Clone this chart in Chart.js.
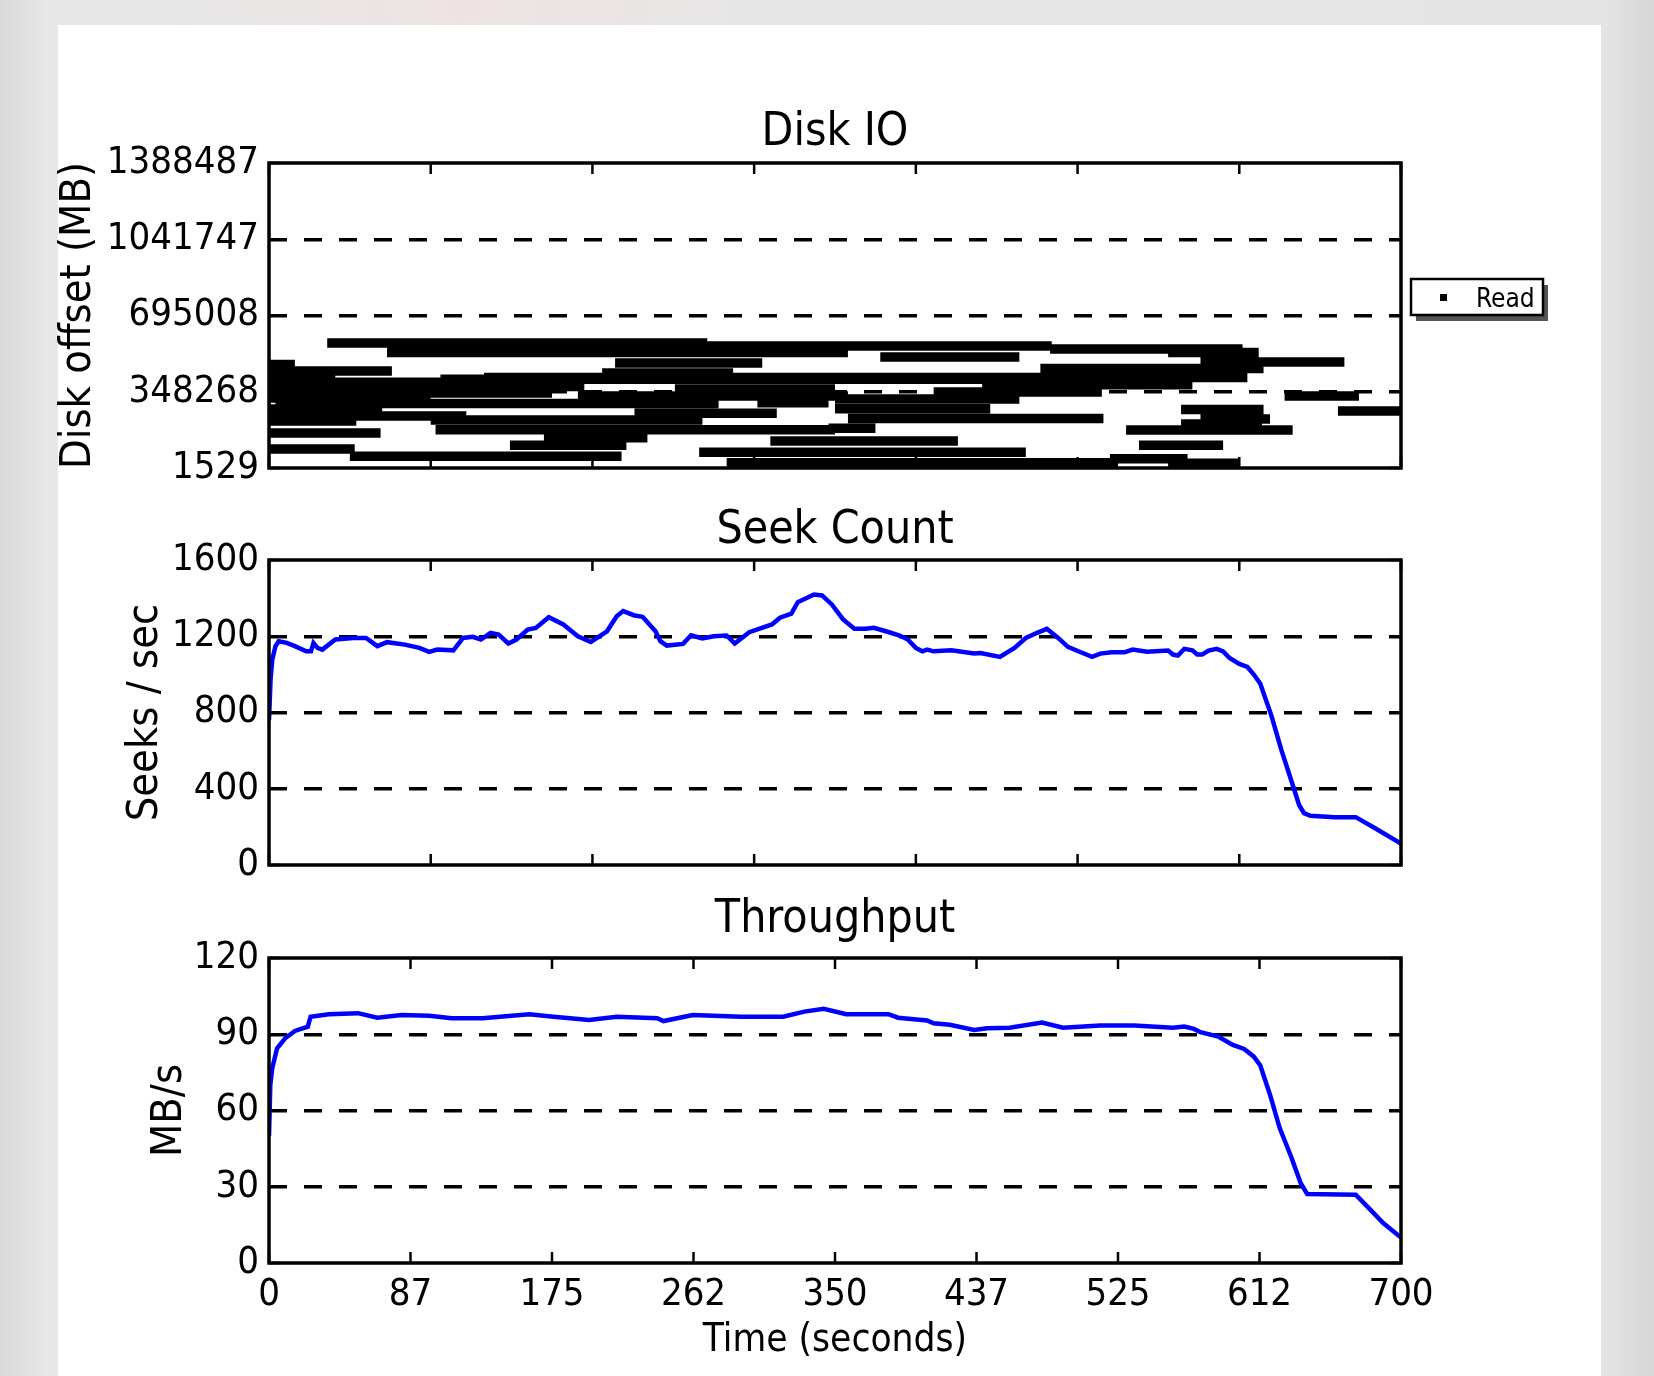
<!DOCTYPE html>
<html>
<head>
<meta charset="utf-8">
<title>Disk IO / Seek Count / Throughput</title>
<script src="https://cdn.jsdelivr.net/npm/chart.js@4.4.1/dist/chart.umd.min.js"></script>
<style>
  html, body { margin: 0; padding: 0; }
  body {
    width: 1654px; height: 1376px; overflow: hidden; position: relative;
    background:
      radial-gradient(ellipse at 28% 0%, #eee3e3 0%, rgba(238,227,227,0) 18%),
      linear-gradient(90deg, #d9d9d9 0%, #e8e8e8 3%, #e4e4e4 97%, #d6d6d6 100%);
  }
  #panel { position: absolute; left: 58px; top: 25px; width: 1543px; height: 1351px; background: #fff; }
  canvas { position: absolute; left: 0; top: 0; }
</style>
</head>
<body>
<div id="panel"></div>
<canvas id="diskChart" width="1654" height="1376"></canvas>
<canvas id="seekChart" width="1654" height="1376"></canvas>
<canvas id="tputChart" width="1654" height="1376"></canvas>
<script>
const FONT = '"DejaVu Sans Condensed", "DejaVu Sans", sans-serif';

// time ticks (seconds)
const topTimeTicks = [0, 100, 200, 300, 400, 500, 600, 700];
const bottomTimeTicks = [0, 87.5, 175, 262.5, 350, 437.5, 525, 612.5, 700];
const bottomTimeLabels = ['0', '87', '175', '262', '350', '437', '525', '612', '700'];

// Disk IO: each read run is a horizontal bar (start s, end s, offset MB)
const diskTicks = [1529, 348268.5, 695008, 1041747.5, 1388487];
const diskTickLabels = ['1529', '348268', '695008', '1041747', '1388487'];
const readStart = [36, 266, 483, 73, 0, 0, 0, 133, 106, 206, 0, 0, 191, 4, 251, 441, 411, 350, 302, 0,
  0, 100, 226, 103, 358, 350, 346, 0, 0, 149, 170, 310, 50, 266, 283, 378, 477, 556, 576, 628,
  564, 661, 576, 564, 530, 538, 520, 556, 214, 0, 0, 0];
const readEnd = [271, 484, 602, 358, 16, 76, 41, 605, 525, 287, 195, 175, 358, 278, 350, 571, 515, 464, 346, 122,
  54, 268, 314, 350, 516, 446, 375, 69, 53, 221, 234, 426, 218, 468, 525, 464, 615, 612, 665, 674,
  615, 700, 619, 614, 633, 590, 568, 600, 305, 110, 100, 70];
const readOffset = [570000, 556300, 542700, 526800, 472200, 442600, 415300, 413000, 405000, 433500, 372000, 342600, 329000, 294800, 360800, 380000, 347100, 315300, 298000, 238000,
  215300, 220000, 250300, 175000, 226500, 271200, 182000, 160700, 87900, 105000, 139300, 124300, 55000, 73000, 25000, 506300, 454000, 526800, 483600, 329000,
  268000, 260700, 224400, 201600, 174300, 104800, 43800, 22900, 479000, 392000, 320000, 270000];

// Seek count (seeks / sec)
const seekTicks = [0, 400, 800, 1200, 1600];
const seekTime = [0, 1, 2, 4, 6, 11, 16, 23, 26, 27.5, 30, 33, 41, 52, 60, 67, 73, 84, 93, 99,
  104, 114, 120, 126, 131, 137, 142, 148, 153, 160, 165, 173, 182, 191, 199, 209, 215, 219, 226, 231,
  239, 242, 246, 256, 261, 268, 275, 283, 288, 297, 311, 316, 323, 327, 337, 342, 348, 355, 362, 369,
  374, 382, 390, 395, 400, 404, 407, 411, 422, 436, 440, 452, 461, 468, 475, 481, 488, 494, 502, 509,
  514, 521, 529, 534, 543, 556, 559, 562, 566, 571, 574, 577, 581, 586, 590, 594, 600, 605, 609, 613,
  620, 626, 632, 637, 640, 644, 659, 672, 684, 700];
const seekValue = [760, 980, 1077, 1148, 1174, 1165, 1148, 1121, 1121, 1165, 1139, 1130, 1183, 1191, 1191, 1148, 1169, 1156, 1139, 1118,
  1130, 1126, 1191, 1197, 1183, 1218, 1209, 1162, 1183, 1235, 1244, 1300, 1262, 1200, 1170, 1226, 1305, 1332, 1309, 1302,
  1226, 1174, 1151, 1160, 1205, 1188, 1200, 1204, 1162, 1221, 1262, 1297, 1319, 1379, 1419, 1414, 1367, 1288, 1239, 1239,
  1244, 1225, 1204, 1183, 1139, 1121, 1130, 1121, 1126, 1109, 1112, 1092, 1139, 1191, 1218, 1239, 1191, 1144, 1116, 1092,
  1109, 1116, 1116, 1130, 1119, 1125, 1104, 1099, 1134, 1126, 1104, 1104, 1125, 1134, 1121, 1086, 1055, 1039, 999, 951,
  780, 604, 447, 315, 272, 258, 251, 251, 193, 112];

// Throughput (MB/s)
const tputTicks = [0, 30, 60, 90, 120];
const tputTime = [0, 0.8, 2, 5, 10, 16, 24, 25.7, 37, 55, 67, 82, 99, 113, 132, 143, 161, 176, 198, 215,
  240, 244, 262, 292, 318, 331, 343, 357, 383, 389, 407, 411, 421, 436, 444, 458, 478, 491, 514, 535,
  559, 566, 572, 576, 587, 596, 603, 609, 613, 619, 625, 632, 638, 642, 672, 681, 689, 700];
const tputValue = [50, 70, 76.6, 84.5, 88.4, 91.3, 93, 96.9, 97.9, 98.3, 96.5, 97.6, 97.3, 96.3, 96.3, 96.9, 97.9, 96.9, 95.6, 96.9,
  96.3, 95.2, 97.6, 96.9, 96.9, 98.9, 100, 97.9, 97.9, 96.5, 95.4, 94.3, 93.7, 91.7, 92.4, 92.6, 94.6, 92.6, 93.4, 93.4,
  92.6, 93, 92.1, 90.8, 89.1, 85.8, 84.2, 81.2, 77.7, 66.2, 53.1, 41.9, 31.4, 27.1, 26.9, 21, 15.7, 10];

Chart.defaults.font.family = FONT;
Chart.defaults.color = '#000';

// matplotlib-like frame with inward ticks on all four sides
const frameAndTicks = {
    id: 'frameAndTicks',
    afterDatasetsDraw(chart) {
        const {ctx, chartArea: a, scales: {x, y}} = chart;
        ctx.save();
        ctx.strokeStyle = '#000';
        ctx.lineWidth = 2.5;
        ctx.beginPath();
        x.ticks.forEach(t => {
            const px = x.getPixelForValue(t.value);
            ctx.moveTo(px, a.bottom); ctx.lineTo(px, a.bottom - 11);
            ctx.moveTo(px, a.top); ctx.lineTo(px, a.top + 11);
        });
        y.ticks.forEach(t => {
            const py = y.getPixelForValue(t.value);
            ctx.moveTo(a.left, py); ctx.lineTo(a.left + 11, py);
            ctx.moveTo(a.right, py); ctx.lineTo(a.right - 11, py);
        });
        ctx.stroke();
        ctx.lineWidth = 3.5;
        ctx.strokeRect(a.left, a.top, a.right - a.left, a.bottom - a.top);
        ctx.restore();
    }
};

// boxed legend with drop shadow, right of the Disk IO axes
const readLegend = {
    id: 'readLegend',
    afterDraw(chart) {
        const ctx = chart.ctx;
        ctx.save();
        ctx.fillStyle = '#555';
        ctx.fillRect(1416, 285, 132, 36);
        ctx.fillStyle = '#fff';
        ctx.fillRect(1411, 279, 132, 36);
        ctx.strokeStyle = '#000';
        ctx.lineWidth = 2.5;
        ctx.strokeRect(1411, 279, 132, 36);
        ctx.fillStyle = '#000';
        ctx.fillRect(1440, 294, 7, 7);
        ctx.font = '26px ' + FONT;
        ctx.fillText(chart.data.datasets[0].label, 1476, 307);
        ctx.restore();
    }
};

const dashedGrid = {
    drawTicks: false,
    lineWidth: 3.5,
    color: c => (c.index > 0 && c.index < 4) ? '#000' : 'rgba(0,0,0,0)'
};

function yScale(min, max, ticks, labels, title, titleOffset) {
    return {
        type: 'linear', min: min, max: max,
        afterBuildTicks: s => { s.ticks = ticks.map(v => ({value: v})); },
        afterFit: s => { s.width = 269; },
        ticks: {padding: 10, font: {size: 38}, callback: (v, i) => labels[i]},
        grid: dashedGrid,
        border: {display: false, dash: [18, 17]},
        title: {display: true, text: title, font: {size: 43}, padding: {top: titleOffset, bottom: 0}}
    };
}

function hiddenTimeScale() {
    return {
        type: 'linear', min: 0, max: 700,
        afterBuildTicks: s => { s.ticks = topTimeTicks.map(v => ({value: v})); },
        afterFit: s => { s.height = 0; },
        ticks: {display: false},
        grid: {display: false, drawTicks: false},
        border: {display: false}
    };
}

function titleOpts(text, bottomPad) {
    return {
        display: true, text: text, fullSize: false, color: '#000',
        font: {size: 46, weight: 'normal'},
        padding: {top: 0, bottom: bottomPad}
    };
}

const common = {
    responsive: false,
    animation: false,
    devicePixelRatio: 1,
    events: []
};

const readPoints = [];
readStart.forEach((t0, i) => {
    readPoints.push({x: t0, y: readOffset[i]}, {x: readEnd[i], y: readOffset[i]}, {x: readEnd[i], y: null});
});

new Chart(document.getElementById('diskChart'), {
    type: 'line',
    data: {
        datasets: [{
            label: 'Read',
            data: readPoints,
            borderColor: '#000',
            borderWidth: 9.5,
            pointRadius: 0,
            spanGaps: false,
            tension: 0
        }]
    },
    options: {
        ...common,
        layout: {padding: {left: 0, right: 253, top: 105.3, bottom: 908}},
        scales: {
            x: hiddenTimeScale(),
            y: yScale(1529, 1388487, diskTicks, diskTickLabels, 'Disk offset (MB)', 53.2)
        },
        plugins: {
            legend: {display: false},
            tooltip: {enabled: false},
            title: titleOpts('Disk IO', 2.5)
        }
    },
    plugins: [frameAndTicks, readLegend]
});

new Chart(document.getElementById('seekChart'), {
    type: 'line',
    data: {
        datasets: [{
            label: 'Seeks',
            data: seekTime.map((t, i) => ({x: t, y: seekValue[i]})),
            borderColor: '#0000ff',
            borderWidth: 4.5,
            pointRadius: 0,
            tension: 0
        }]
    },
    options: {
        ...common,
        layout: {padding: {left: 0, right: 253, top: 503.6, bottom: 511}},
        scales: {
            x: hiddenTimeScale(),
            y: yScale(0, 1600, seekTicks, seekTicks.map(String), 'Seeks / sec', 119.6)
        },
        plugins: {
            legend: {display: false},
            tooltip: {enabled: false},
            title: titleOpts('Seek Count', 1.2)
        }
    },
    plugins: [frameAndTicks]
});

new Chart(document.getElementById('tputChart'), {
    type: 'line',
    data: {
        datasets: [{
            label: 'Throughput',
            data: tputTime.map((t, i) => ({x: t, y: tputValue[i]})),
            borderColor: '#0000ff',
            borderWidth: 4.5,
            pointRadius: 0,
            tension: 0
        }]
    },
    options: {
        ...common,
        layout: {padding: {left: 0, right: 253, top: 892.2, bottom: 0}},
        scales: {
            x: {
                type: 'linear', min: 0, max: 700,
                afterBuildTicks: s => { s.ticks = bottomTimeTicks.map(v => ({value: v})); },
                afterFit: s => { s.height = 113; },
                ticks: {padding: 9.2, font: {size: 38}, maxRotation: 0, callback: (v, i) => bottomTimeLabels[i]},
                grid: {display: false, drawTicks: false},
                border: {display: false},
                title: {display: true, text: 'Time (seconds)', font: {size: 38.5}, padding: {top: 0, bottom: 12.2}}
            },
            y: yScale(0, 120, tputTicks, tputTicks.map(String), 'MB/s', 144)
        },
        plugins: {
            legend: {display: false},
            tooltip: {enabled: false},
            title: titleOpts('Throughput', 10.6)
        }
    },
    plugins: [frameAndTicks]
});
</script>
</body>
</html>
